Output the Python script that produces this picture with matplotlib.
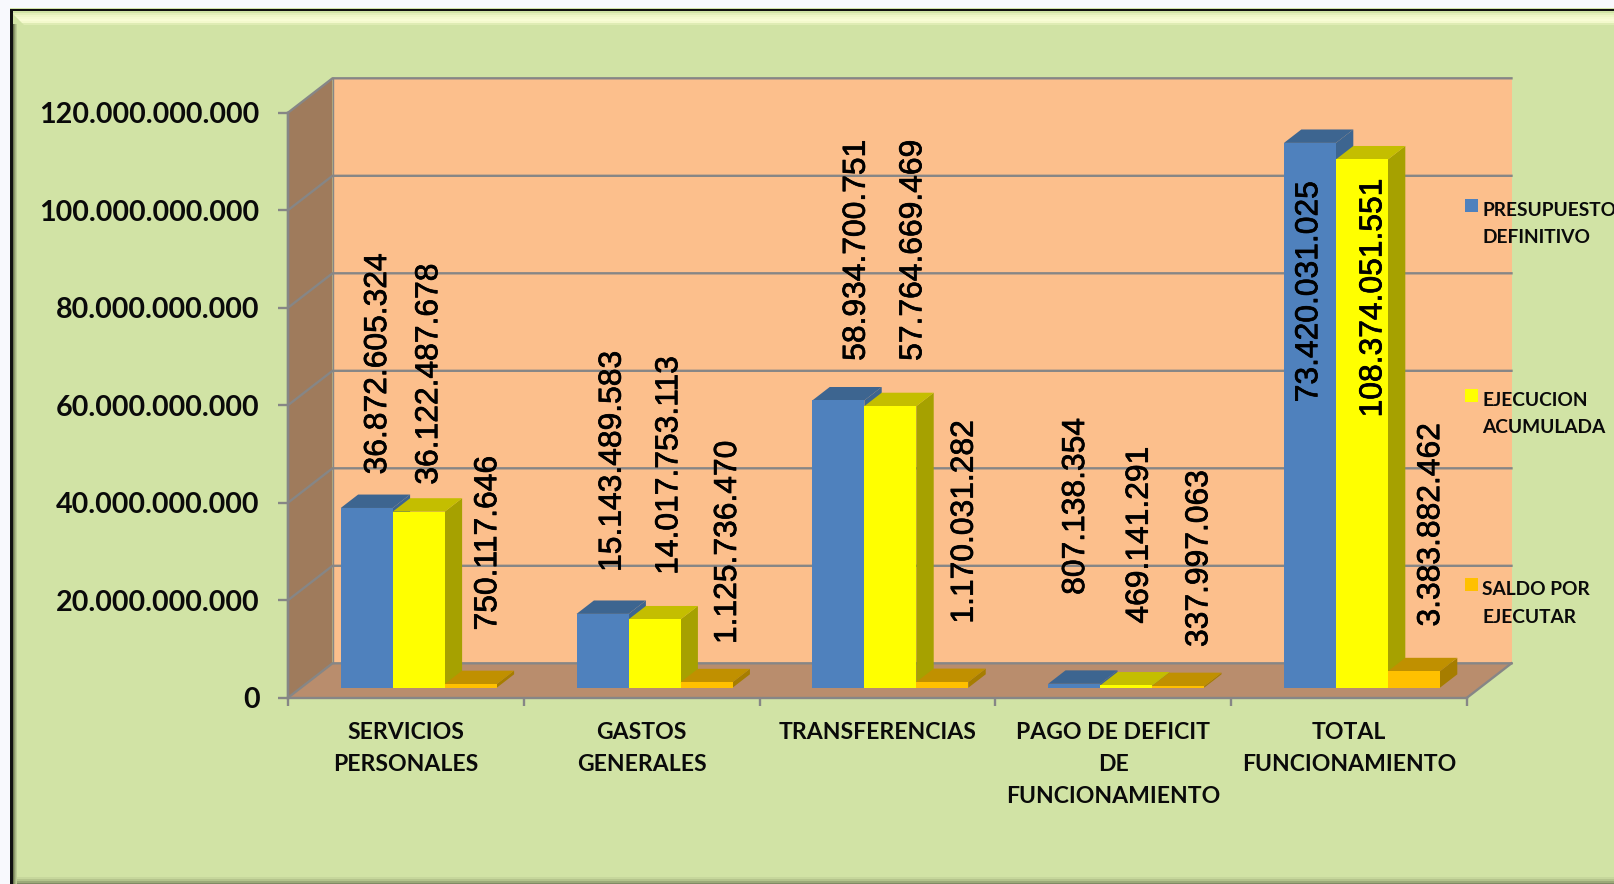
import matplotlib
matplotlib.use("Agg")
import matplotlib.pyplot as plt
import matplotlib.patheffects as pe
from matplotlib.patches import Polygon, Rectangle, Patch
from matplotlib.legend_handler import HandlerPatch

categories = ["SERVICIOS\nPERSONALES", "GASTOS\nGENERALES", "TRANSFERENCIAS",
              "PAGO DE DEFICIT\nDE\nFUNCIONAMIENTO", "TOTAL\nFUNCIONAMIENTO"]
series_names = ["PRESUPUESTO\nDEFINITIVO", "EJECUCION\nACUMULADA", "SALDO POR\nEJECUTAR"]
presupuesto = [36872605324, 15143489583, 58934700751, 807138354, 111757934012]
ejecucion = [36122487678, 14017753113, 57764669469, 469141291, 108374051551]
saldo = [750117646, 1125736470, 1170031282, 337997063, 3383882462]
value_labels = [
    ["36.872.605.324", "36.122.487.678", "750.117.646"],
    ["15.143.489.583", "14.017.753.113", "1.125.736.470"],
    ["58.934.700.751", "57.764.669.469", "1.170.031.282"],
    ["807.138.354", "469.141.291", "337.997.063"],
    ["73.420.031.025", "108.374.051.551", "3.383.882.462"],
]
y_ticks = [0, 20e9, 40e9, 60e9, 80e9, 100e9, 120e9]

# label placement (category units / axis value of the text's lower end)
label_x = [[0.382, 0.599, 0.849], [1.377, 1.617, 1.866], [2.412, 2.652, 2.870],
           [3.342, 3.612, 3.865], [4.331, 4.603, 4.848]]
label_y = [[45.8e9, 43.7e9, 13.8e9], [25.8e9, 25.2e9, 11.0e9], [69.1e9, 69.1e9, 15.2e9],
           [21.1e9, 15.2e9, 10.4e9], [60.6e9, 57.5e9, 14.6e9]]

W, H = 1614, 884
BG = "#D1E3A5"
GRAY = "#868686"
fig = plt.figure(figsize=(W / 100, H / 100), dpi=100, facecolor="#F8F9FD")

# chart-area frame
bg = fig.add_axes([0, 0, 1, 1], zorder=0)
bg.set_xlim(0, W); bg.set_ylim(H, 0); bg.axis("off")
bg.add_patch(Rectangle((10, 8), W, H, fc=BG, ec="none"))
for y, c in [(13, "#E4EFBA"), (15, "#EEF6C6"), (17, "#F4FACE"), (19, "#F8FCD4"), (21, "#F3F9CC"), (23, "#DFECB4")]:
    bg.add_patch(Polygon([(12 + (y - 13), y), (W, y), (W, y + 2), (14 + (y - 13), y + 2)], fc=c, ec="none"))
for x, c in [(13, "#6E7A50"), (14, "#8E9B6C"), (15, "#A9B785"), (16, "#BCCB94")]:
    bg.add_patch(Rectangle((x, 24), 1.2, H, fc=c, ec="none"))
for y, c in [(877, "#C6D79C"), (879, "#B4C48C"), (881, "#9BA978"), (883, "#7F8B63")]:
    bg.add_patch(Rectangle((17, y), W, 2, fc=c, ec="none"))
bg.add_patch(Rectangle((10, 8.5), W, 2.5, fc="#111111", ec="none"))
bg.add_patch(Rectangle((10, 8.5), 3, H, fc="#111111", ec="none"))

# front plane of the 3-D plot
x0, x1, ytop, ybot = 288, 1467, 112.7, 697.7
ax = fig.add_axes([x0 / W, 1 - ybot / H, (x1 - x0) / W, (ybot - ytop) / H], zorder=1)
ax.patch.set_alpha(0)
ax.set_xlim(0, 5); ax.set_ylim(0, 120e9)
DX = 44.5 / 235.8
DY = 34.4 / 4.875 * 1e9

def pt(x, v, d=0.0):
    return (x + d * DX, v + d * DY)

def poly(points, fc, z, ec="none", lw=0):
    ax.add_patch(Polygon(points, closed=True, fc=fc, ec=ec, lw=lw, zorder=z, clip_on=False))

# walls
poly([pt(0, 0, 1), pt(5, 0, 1), pt(5, 120e9, 1), pt(0, 120e9, 1)], "#FCBF8C", 1)
poly([pt(0, 0), pt(0, 0, 1), pt(0, 120e9, 1), pt(0, 120e9)], "#9F7B5C", 1.1)
poly([pt(0, 0), pt(5, 0), pt(5, 0, 1), pt(0, 0, 1)], "#B98D6D", 1.2)
for v in y_ticks:
    a, b, c = pt(0, v), pt(0, v, 1), pt(5, v, 1)
    ax.plot([a[0], b[0], c[0]], [a[1], b[1], c[1]], color=GRAY, lw=1.7, zorder=1.5, clip_on=False)
a, b, c = pt(5, 0), pt(5, 0, 1), pt(0, 0, 1)
ax.plot([a[0], b[0]], [a[1], b[1]], color=GRAY, lw=1.7, zorder=1.5, clip_on=False)
ax.plot([0, 0], [0, 120e9], color=GRAY, lw=1.7, zorder=1.5, clip_on=False)
ax.plot([DX, DX], [DY, 120e9 + DY], color=GRAY, lw=1.0, zorder=1.5, clip_on=False)

# bars
BAR_W = 52 / 235.8
D0, D1 = 0.29, 0.68
bar_left = 0.169
styles = [("#4F81BD", "#3D6590", "#3D6590"),
          ("#FFFF00", "#C4BE00", "#A6A100"),
          ("#FFC000", "#C09000", "#A67D00")]
all_series = [presupuesto, ejecucion, saldo]
for g in range(len(categories)):
    for s, vals in enumerate(all_series):
        v = vals[g]
        front, top, side = styles[s]
        z = 2 + g + 0.1 * s
        L = g + bar_left + s * BAR_W
        R = L + BAR_W
        poly([pt(R, 0, D0), pt(R, 0, D1), pt(R, v, D1), pt(R, v, D0)], side, z)
        poly([pt(L, v, D0), pt(R, v, D0), pt(R, v, D1), pt(L, v, D1)], top, z + 0.01)
        fx, base = pt(L, 0, D0)
        ax.bar(fx, v, width=BAR_W, bottom=base, align="edge", color=front, lw=0, zorder=z + 0.02)

# data labels
for g, row in enumerate(value_labels):
    for s, txt in enumerate(row):
        ax.text(label_x[g][s], label_y[g][s], txt, rotation=90, ha="center", va="bottom",
                family="Liberation Sans", fontsize=22.9, color="black", zorder=20, clip_on=False,
                path_effects=[pe.withStroke(linewidth=0.5, foreground="black")])

# axes
for k in ("top", "right"):
    ax.spines[k].set_visible(False)
for k in ("left", "bottom"):
    ax.spines[k].set_color(GRAY); ax.spines[k].set_linewidth(1.7); ax.spines[k].set_zorder(1.6)
ax.set_yticks(y_ticks)
ax.set_yticklabels([f"{int(v):,}".replace(",", ".") for v in y_ticks],
                   family="Lato", fontweight="bold", fontsize=20.6, color="#0A0A0A")
ax.tick_params(axis="y", length=7, width=1.7, color=GRAY, pad=13.5)
ax.set_xticks(range(6))
ax.set_xticklabels([""] * 6)
ax.tick_params(axis="x", which="major", length=6, width=1.7, color=GRAY)
ax.set_xticks([i + 0.5 for i in range(5)], minor=True)
ax.set_xticklabels(categories, minor=True, family="Lato", fontweight="bold", fontsize=16.6,
                   color="#0A0A0A", linespacing=1.65)
ax.tick_params(axis="x", which="minor", length=0, pad=17.5)

# legend (swatch beside the first line of each entry)
def first_line_swatch(legend, orig_handle, xdescent, ydescent, width, height, fontsize):
    return Rectangle((width - 9.4, 13.8), 9.4, 9.4)

handles = [Patch(fc=st[0], ec="none") for st in styles]
leg = ax.legend(handles, series_names, loc="upper left", bbox_to_anchor=(1465 / W, 1 - 202 / H),
                bbox_transform=fig.transFigure, frameon=False, borderpad=0, borderaxespad=0,
                handlelength=0.7, handletextpad=0.2, labelspacing=7.58, ncol=1,
                prop={"family": "Lato", "weight": "bold", "size": 13.8},
                handler_map={Patch: HandlerPatch(patch_func=first_line_swatch)})
for t in leg.get_texts():
    t.set_color("#0A0A0A")
    t.set_linespacing(1.74)
leg.set_zorder(30)

fig.savefig("out.png", dpi=100, facecolor=fig.get_facecolor())
